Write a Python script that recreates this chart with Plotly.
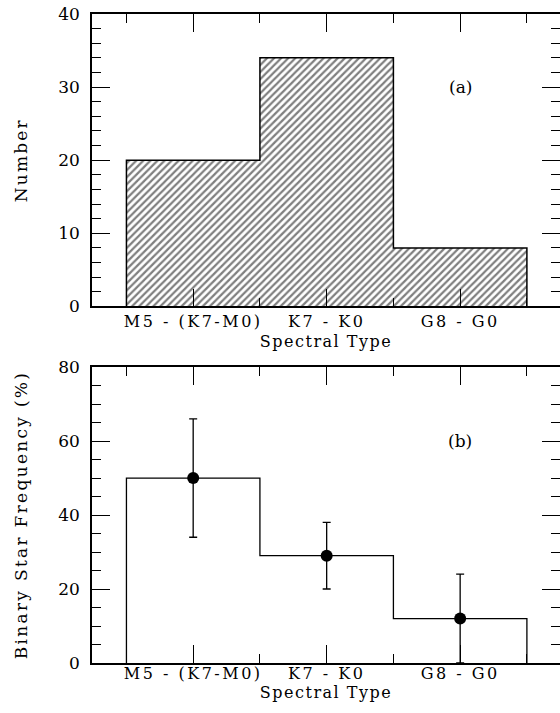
import plotly.graph_objects as go
from plotly.subplots import make_subplots

categories = ["M5 - (K7-M0)", "K7 - K0", "G8 - G0"]
bin_edges = [0, 1, 2, 3]
counts = [20, 34, 8]
frequency = [50, 29, 12]
freq_err = [16, 9, 12]
panel_labels = ["(a)", "(b)"]

centers = [(bin_edges[i] + bin_edges[i + 1]) / 2 for i in range(len(categories))]
widths = [bin_edges[i + 1] - bin_edges[i] for i in range(len(categories))]


def step_xy(vals):
    xs = [bin_edges[0]] + bin_edges[:-1] + [bin_edges[-1], bin_edges[-1]]
    ys = [0] + list(vals) + [vals[-1], 0]
    return xs, ys


def spaced(t, ls=2.5):
    return '<span style="letter-spacing:%spx">%s</span>' % (ls, t)


FONT = "DejaVu Serif"
fig = make_subplots(rows=2, cols=1)

# Panel (a): hatched histogram
fig.add_trace(go.Bar(x=centers, y=counts, width=widths,
                     marker=dict(color="white",
                                 line=dict(width=0),
                                 pattern=dict(shape="/", fgcolor="black", bgcolor="white",
                                              size=5, solidity=0.45)),
                     showlegend=False, hoverinfo="skip"), row=1, col=1)
sx, sy = step_xy(counts)
fig.add_trace(go.Scatter(x=sx, y=sy, mode="lines", line_shape="hv",
                         line=dict(color="black", width=1.5), showlegend=False), row=1, col=1)

# Panel (b): step outline + points with errors
sx2, sy2 = step_xy(frequency)
fig.add_trace(go.Scatter(x=sx2, y=sy2, mode="lines", line_shape="hv",
                         line=dict(color="black", width=1.3), showlegend=False), row=2, col=1)
fig.add_trace(go.Scatter(x=centers, y=frequency, mode="markers",
                         marker=dict(color="black", size=12),
                         error_y=dict(type="data", array=freq_err, visible=True,
                                      color="black", thickness=1.3, width=4),
                         showlegend=False), row=2, col=1)

xr = [-0.258, 3.248]
common_x = dict(range=xr, tickmode="array", tickvals=centers,
                ticktext=[spaced(c) for c in categories],
                ticks="inside", ticklen=18, tickwidth=1.3, tickcolor="black",
                showline=True, linecolor="black", linewidth=1.5, mirror="ticks",
                showgrid=False, zeroline=False, automargin=False,
                tickfont=dict(family=FONT, size=16, color="black"),
                minor=dict(tickmode="array", tickvals=bin_edges, ticks="inside", ticklen=9,
                           tickwidth=1.3, tickcolor="black", showgrid=False))
fig.update_xaxes(**common_x,
                 title=dict(text=spaced("Spectral Type", 1.5),
                            font=dict(family=FONT, size=16, color="black"), standoff=5),
                 row=1, col=1)
fig.update_xaxes(**common_x, ticklabelstandoff=-5,
                 title=dict(text=spaced("Spectral Type", 1.5),
                            font=dict(family=FONT, size=16, color="black"), standoff=2),
                 row=2, col=1)

common_y = dict(ticks="inside", ticklen=18, tickwidth=1.3, tickcolor="black",
                showline=True, linecolor="black", linewidth=1.5, mirror="ticks",
                showgrid=False, zeroline=False, ticklabelstandoff=7, automargin=False,
                tickfont=dict(family=FONT, size=17, color="black"))
fig.update_yaxes(**common_y, range=[0, 40], tick0=0, dtick=10,
                 minor=dict(dtick=2, ticks="inside", ticklen=9, tickwidth=1.3,
                            tickcolor="black", showgrid=False),
                 title=dict(text=spaced("Number", 2.2),
                            font=dict(family=FONT, size=17, color="black"),
                            standoff=26),
                 row=1, col=1)
fig.update_yaxes(**common_y, range=[0, 80], tick0=0, dtick=20,
                 minor=dict(dtick=5, ticks="inside", ticklen=9, tickwidth=1.3,
                            tickcolor="black", showgrid=False),
                 title=dict(text=spaced("Binary Star Frequency (%)", 2.3),
                            font=dict(family=FONT, size=17, color="black"), standoff=26),
                 row=2, col=1)

fig.update_layout(
    width=560, height=713,
    margin=dict(l=92, r=0, t=14, b=50),
    plot_bgcolor="white", paper_bgcolor="white",
    bargap=0,
    xaxis=dict(domain=[0, 1]), yaxis=dict(domain=[0.5495, 1.0]),
    xaxis2=dict(domain=[0, 1]), yaxis2=dict(domain=[0.0, 0.456]),
    annotations=[
        dict(x=2.5, y=30, xref="x", yref="y", text=panel_labels[0], showarrow=False,
             font=dict(family=FONT, size=17, color="black")),
        dict(x=2.5, y=60, xref="x2", yref="y2", text=panel_labels[1], showarrow=False,
             font=dict(family=FONT, size=17, color="black")),
    ],
)

fig.write_html("out.html",
               config={"displayModeBar": False},
               post_script="document.body.style.margin='0px';"
                           "document.body.style.overflow='hidden';")
